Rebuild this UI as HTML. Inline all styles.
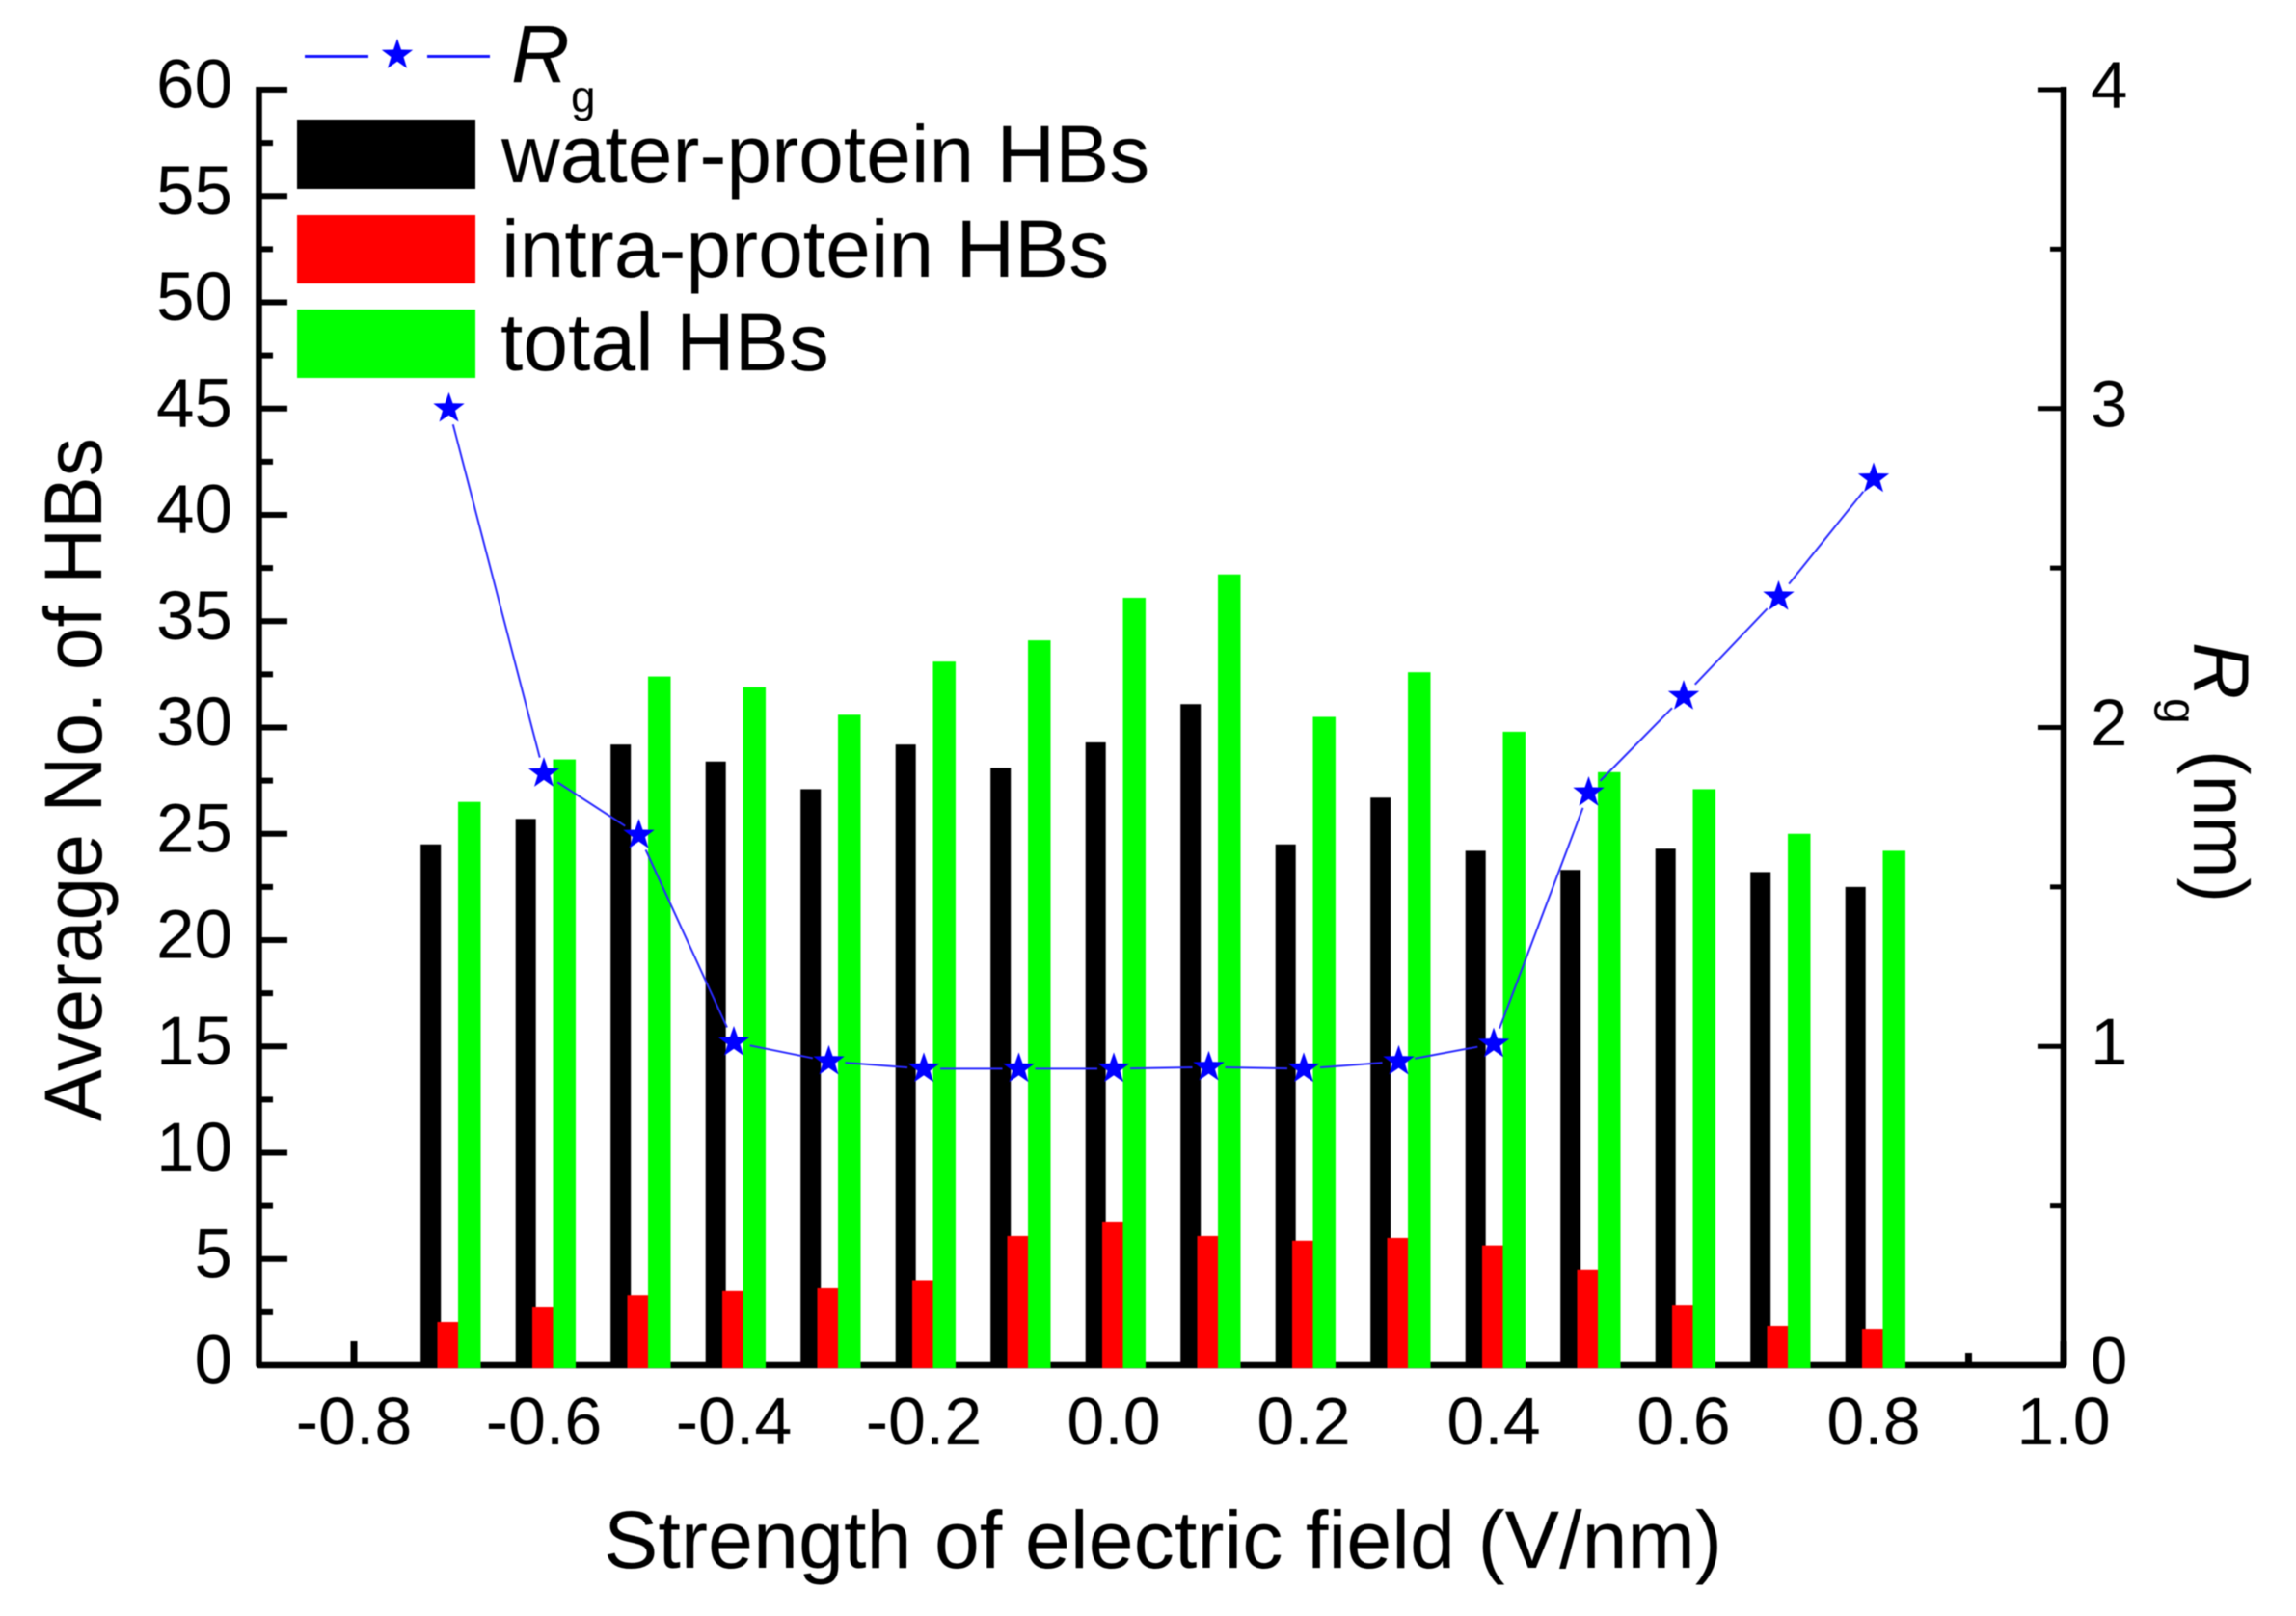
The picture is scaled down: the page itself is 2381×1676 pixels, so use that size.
<!DOCTYPE html>
<html lang="en">
<head>
<meta charset="utf-8">
<title>Hydrogen bonds and Rg versus electric field strength</title>
<style>
  html, body { margin: 0; padding: 0; background: #fff; }
  svg { display: block; filter: blur(0.6px); }
  text { font-family: "Liberation Sans", Arial, sans-serif; fill: #000; }
</style>
</head>
<body>
<svg id="chart" xmlns="http://www.w3.org/2000/svg" width="2381" height="1676" viewBox="0 0 2381 1676">
  <rect width="2381" height="1676" fill="#fff"/>
  <g id="x-ticks"></g>
  <g id="y-ticks"></g>
  <g id="y2-ticks"></g>
  <path d="M268.500 90 V1416 H2140 V90" fill="none" stroke="#000" stroke-width="6.500" stroke-linejoin="round"/>
  <g id="bars"></g>
  <g id="rg-line"></g>
  <g id="rg-points"></g>

  <g>
    <line x1="316" y1="58.500" x2="382" y2="58.500" stroke="#1414ff" stroke-width="3"/>
    <line x1="443" y1="58.500" x2="508" y2="58.500" stroke="#1414ff" stroke-width="3"/>
    <polygon id="legend-star" fill="#0000ff"/>
    <text x="530" y="85" font-size="84" font-style="italic">R</text>
    <text x="592" y="116" font-size="46">g</text>
    <rect x="308" y="124" width="185" height="72" fill="#000"/>
    <text x="520" y="189" font-size="84">water-protein HBs</text>
    <rect x="308" y="223" width="185" height="71" fill="#ff0000"/>
    <text x="520" y="287" font-size="84">intra-protein HBs</text>
    <rect x="308" y="321" width="185" height="71" fill="#00ff00"/>
    <text x="519" y="384" font-size="84">total HBs</text>
  </g>

  <text x="626" y="1626" font-size="84" textLength="1160" lengthAdjust="spacingAndGlyphs">Strength of electric field (V/nm)</text>
  <text transform="translate(105,1163) rotate(-90)" font-size="84" textLength="709" lengthAdjust="spacingAndGlyphs">Average No. of HBs</text>
  <g>
    <text transform="translate(2275,666) rotate(90)" font-size="82" font-style="italic">R</text>
    <text transform="translate(2244,724) rotate(90)" font-size="48">g</text>
    <text transform="translate(2275,778) rotate(90)" font-size="82" textLength="158" lengthAdjust="spacingAndGlyphs">(nm)</text>
  </g>
</svg>

<script>
const fieldValues = [-0.7, -0.6, -0.5, -0.4, -0.3, -0.2, -0.1, 0.0, 0.1, 0.2, 0.3, 0.4, 0.5, 0.6, 0.7, 0.8];
const waterProtein = [24.5, 25.7, 29.2, 28.4, 27.1, 29.2, 28.1, 29.3, 31.1, 24.5, 26.7, 24.2, 23.3, 24.3, 23.2, 22.5];
const intraProtein = [2.04, 2.72, 3.3, 3.5, 3.63, 3.97, 6.08, 6.76, 6.08, 5.86, 5.99, 5.64, 4.5, 2.85, 1.86, 1.72];
const totalHBs = [26.5, 28.5, 32.4, 31.9, 30.6, 33.1, 34.1, 36.1, 37.2, 30.5, 32.6, 29.8, 27.9, 27.1, 25.0, 24.2];
const rgValues = [3.0, 1.856, 1.663, 1.013, 0.953, 0.93, 0.93, 0.93, 0.935, 0.93, 0.953, 1.008, 1.796, 2.098, 2.41, 2.78];

const xMajorTicks = [-0.8, -0.6, -0.4, -0.2, 0.0, 0.2, 0.4, 0.6, 0.8, 1.0];
const xMinorTicks = [-0.7, -0.5, -0.3, -0.1, 0.1, 0.3, 0.5, 0.7, 0.9];
const xTickLabels = ['-0.8', '-0.6', '-0.4', '-0.2', '0.0', '0.2', '0.4', '0.6', '0.8', '1.0'];
const yMajorTicks = [0, 5, 10, 15, 20, 25, 30, 35, 40, 45, 50, 55, 60];
const yMinorTicks = [2.5, 7.5, 12.5, 17.5, 22.5, 27.5, 32.5, 37.5, 42.5, 47.5, 52.5, 57.5];
const y2MajorTicks = [0, 1, 2, 3, 4];
const y2MinorTicks = [0.5, 1.5, 2.5, 3.5];

const NS = 'http://www.w3.org/2000/svg';
const xScale = v => 268.5 + (v + 0.9) * 985;
const yScale = v => 1416 - v * 22.05;
const y2Scale = v => 1416 - v * 330.75;

function make(tag, parent, props) {
  const el = document.createElementNS(NS, tag);
  Object.keys(props).forEach(k => el.setAttribute(k, props[k]));
  parent.appendChild(el);
  return el;
}

function starPoints(cx, cy, R) {
  const pts = [];
  for (let i = 0; i < 10; i++) {
    const r = i % 2 === 0 ? R : R * 0.4;
    const a = -Math.PI / 2 + i * Math.PI / 5;
    pts.push((cx + r * Math.cos(a)).toFixed(1) + ',' + (cy + r * Math.sin(a)).toFixed(1));
  }
  return pts.join(' ');
}

const svg = document.getElementById('chart');
const xTickGroup = document.getElementById('x-ticks');
const yTickGroup = document.getElementById('y-ticks');
const y2TickGroup = document.getElementById('y2-ticks');
const barGroup = document.getElementById('bars');
const lineGroup = document.getElementById('rg-line');
const pointGroup = document.getElementById('rg-points');

/* x axis */
xMajorTicks.forEach((v, i) => {
  const t = make('line', xTickGroup, { x1: xScale(v), x2: xScale(v), y1: 1416, y2: 1391, stroke: '#000', 'stroke-width': 7 });
  
  
  const l = make('text', xTickGroup, { x: xScale(v), y: 1498, 'font-size': 70, 'text-anchor': 'middle' });
  l.textContent = xTickLabels[i];
  
  
});
xMinorTicks.forEach(v => {
  const t = make('line', xTickGroup, { x1: xScale(v), x2: xScale(v), y1: 1416, y2: 1403, stroke: '#000', 'stroke-width': 7 });
  
  
});

/* left axis */
yMajorTicks.forEach(v => {
  const t = make('line', yTickGroup, { x1: 268.5, x2: 298, y1: yScale(v), y2: yScale(v), stroke: '#000', 'stroke-width': 6 });
  
  
  const l = make('text', yTickGroup, { x: 241, y: yScale(v) + 18.5, 'font-size': 71, 'text-anchor': 'end' });
  l.textContent = String(v);
  
  
});
yMinorTicks.forEach(v => {
  const t = make('line', yTickGroup, { x1: 268.5, x2: 283, y1: yScale(v), y2: yScale(v), stroke: '#000', 'stroke-width': 6 });
  
  
});

/* right axis */
y2MajorTicks.forEach(v => {
  const t = make('line', y2TickGroup, { x1: 2140, x2: 2113, y1: y2Scale(v), y2: y2Scale(v), stroke: '#000', 'stroke-width': 5 });
  
  
  const l = make('text', y2TickGroup, { x: 2168, y: y2Scale(v) + 18.5, 'font-size': 69 });
  l.textContent = String(v);
  
  
});
y2MinorTicks.forEach(v => {
  const t = make('line', y2TickGroup, { x1: 2140, x2: 2126, y1: y2Scale(v), y2: y2Scale(v), stroke: '#000', 'stroke-width': 5 });
  
  
});

/* bars */
const barBase = yScale(0) + 3;
fieldValues.forEach((f, i) => {
  const c = xScale(f);
  const black = make('rect', barGroup, { x: c - 29.3, y: yScale(waterProtein[i]), width: 21, height: barBase - yScale(waterProtein[i]), fill: '#000' });
  
  
  const red = make('rect', barGroup, { x: c - 12, y: yScale(intraProtein[i]), width: 21.5, height: barBase - yScale(intraProtein[i]), fill: '#ff0000' });
  
  
  const green = make('rect', barGroup, { x: c + 9.5, y: yScale(totalHBs[i]), width: 23.5, height: barBase - yScale(totalHBs[i]), fill: '#00ff00' });
  
  
});

/* Rg line: segments stop just short of each marker, as in the source plot */
const markerGap = 17;
for (let i = 0; i < fieldValues.length - 1; i++) {
  const x1 = xScale(fieldValues[i]), y1 = y2Scale(rgValues[i]);
  const x2 = xScale(fieldValues[i + 1]), y2 = y2Scale(rgValues[i + 1]);
  const d = Math.hypot(x2 - x1, y2 - y1);
  const ux = (x2 - x1) / d, uy = (y2 - y1) / d;
  const seg = make('line', lineGroup, {
    x1: x1 + ux * markerGap, y1: y1 + uy * markerGap,
    x2: x2 - ux * markerGap, y2: y2 - uy * markerGap,
    stroke: '#2a2aff', 'stroke-width': 2
  });
  
  
}
fieldValues.forEach((f, i) => {
  const p = make('polygon', pointGroup, { points: starPoints(xScale(f), y2Scale(rgValues[i]), 17), fill: '#0000ff' });
  
  
});

document.getElementById('legend-star').setAttribute('points', starPoints(412, 57, 17));
</script>
</body>
</html>
